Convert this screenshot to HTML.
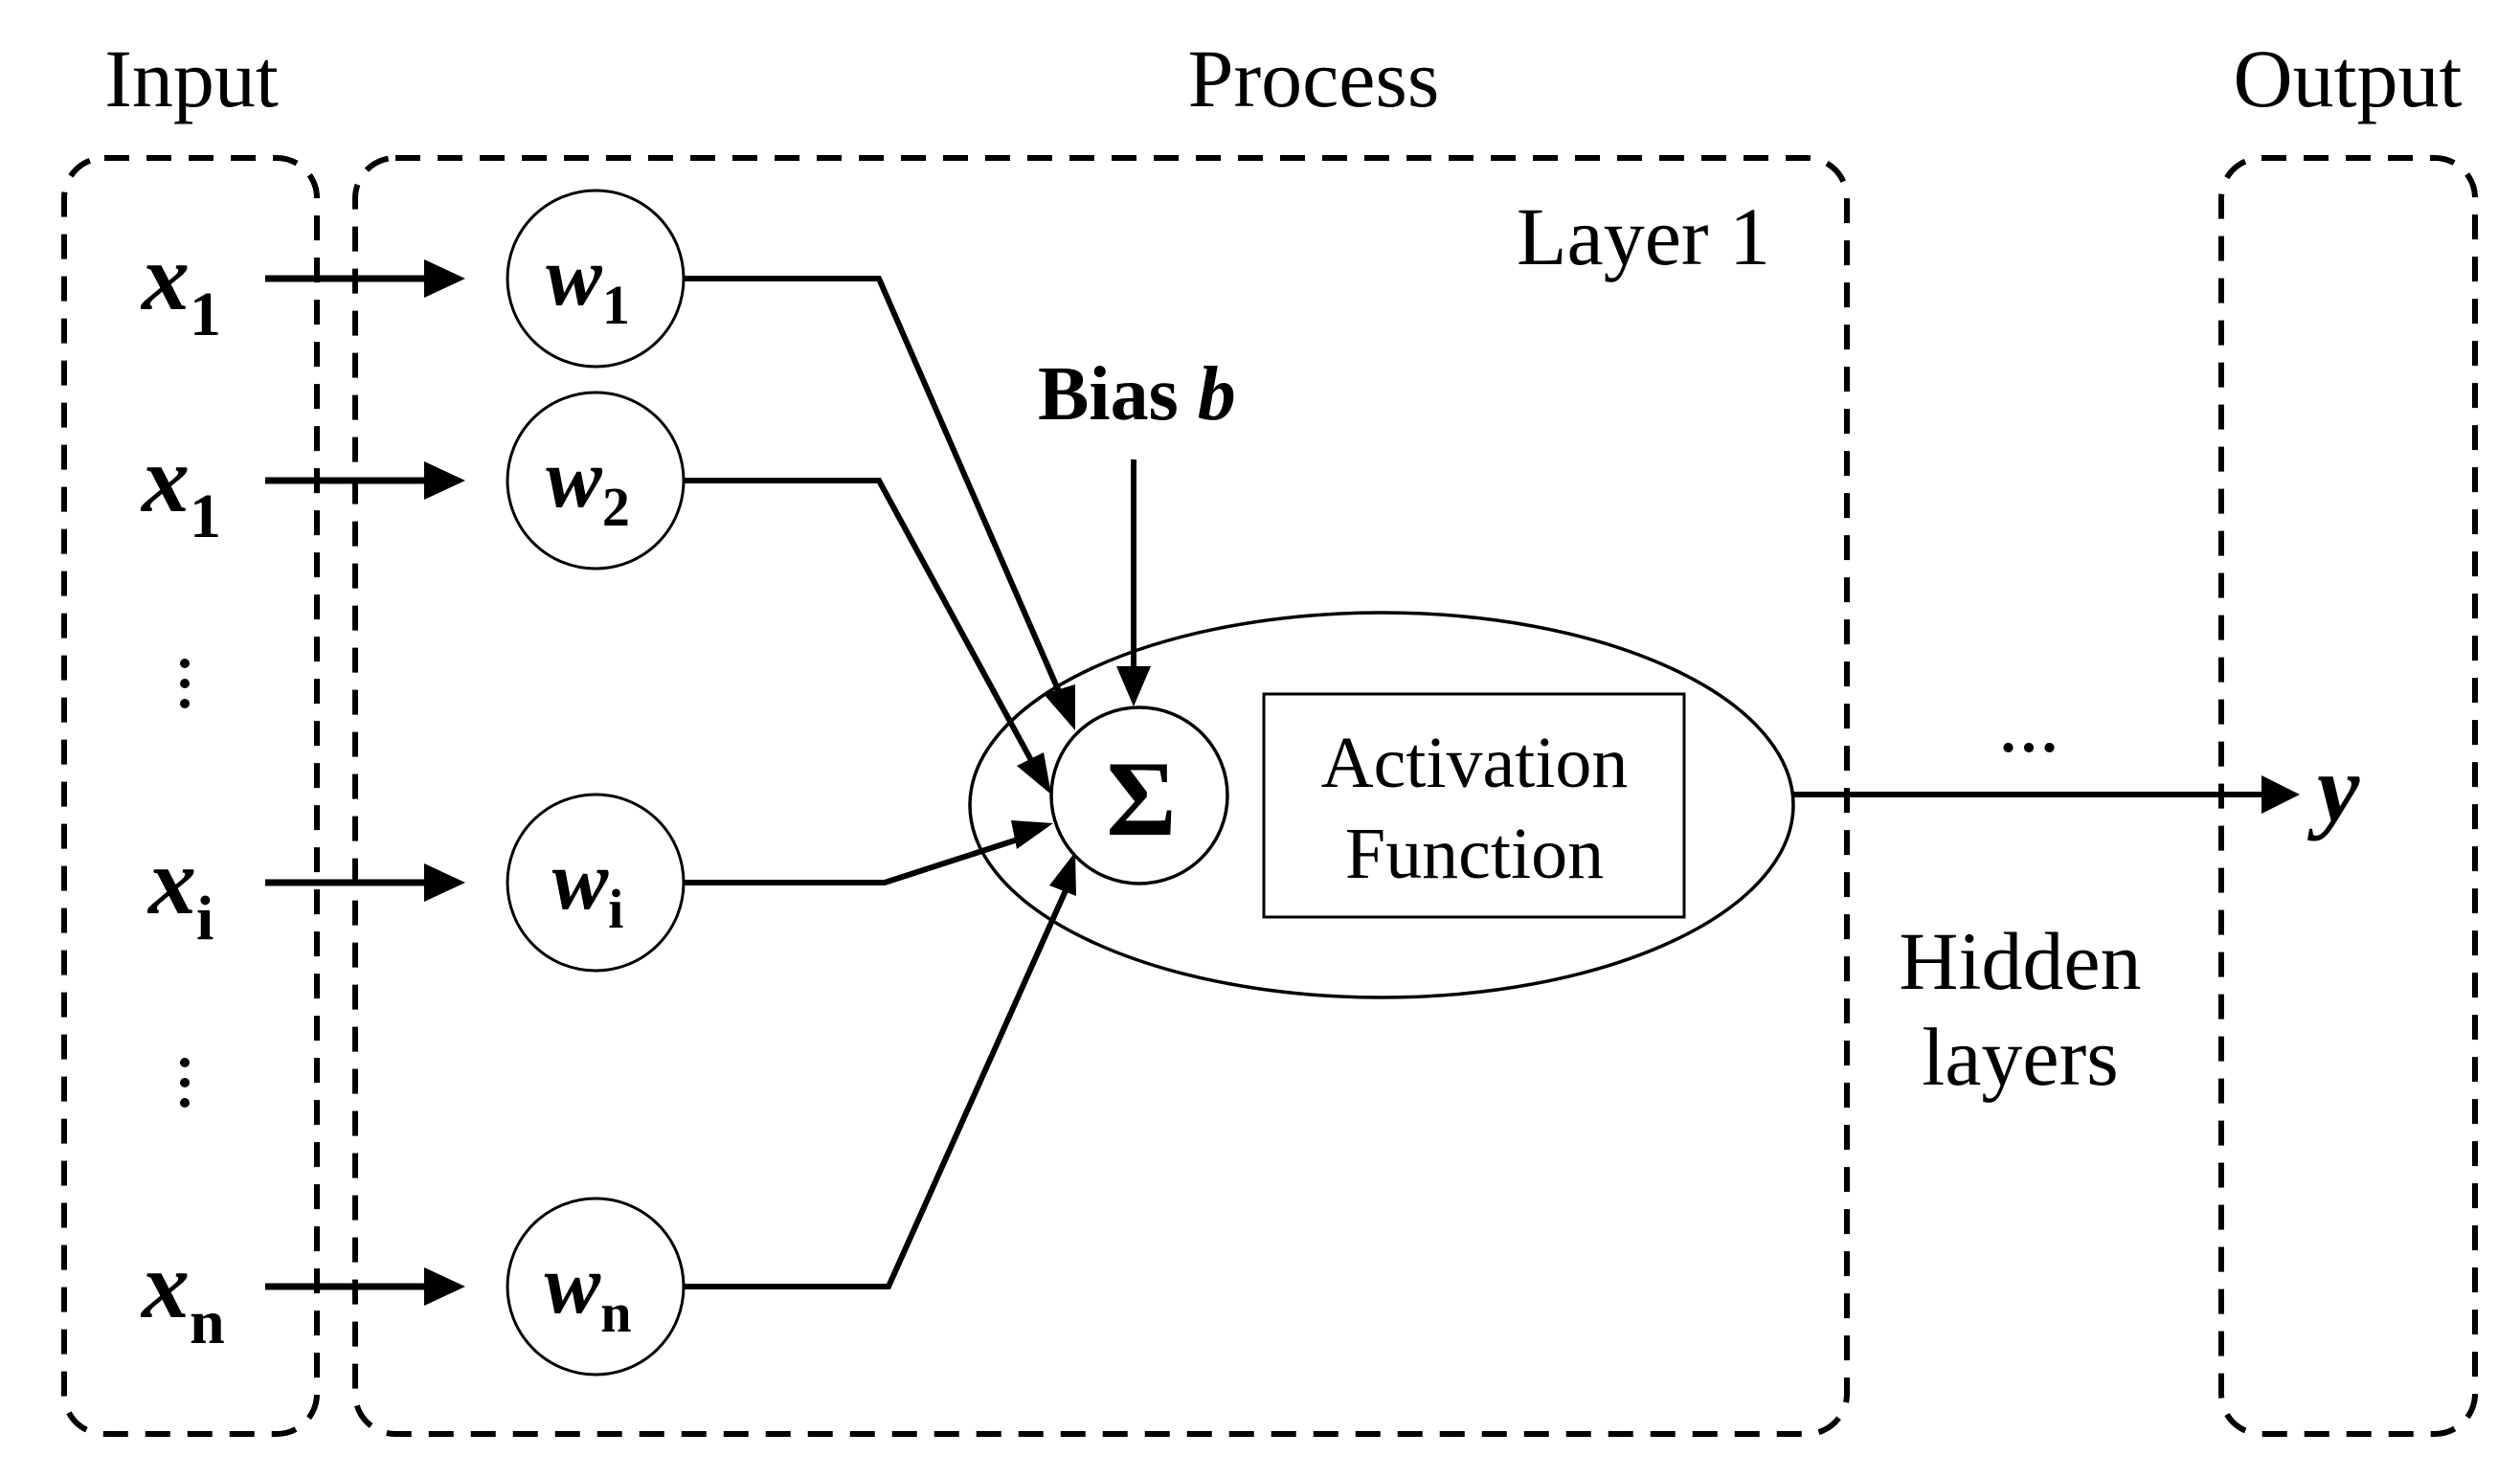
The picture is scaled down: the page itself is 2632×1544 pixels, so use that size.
<!DOCTYPE html>
<html><head><meta charset="utf-8"><style>
html,body{margin:0;padding:0;background:#fff}
svg{display:block}
text{font-family:"Liberation Serif",serif;fill:#000}
</style></head><body>
<svg width="2632" height="1544" viewBox="0 0 2632 1544" xmlns="http://www.w3.org/2000/svg">
<g fill="none" stroke="#000" stroke-width="6" stroke-dasharray="26 18">
<rect x="67" y="165" width="264" height="1333" rx="42"/>
<rect x="371" y="165" width="1558" height="1333" rx="42"/>
<rect x="2320" y="165" width="265" height="1333" rx="42"/>
</g>
<text x="200" y="111" font-size="86" text-anchor="middle">Input</text>
<text x="1372" y="111" font-size="86" text-anchor="middle">Process</text>
<text x="2452" y="111" font-size="86" text-anchor="middle">Output</text>
<text x="1849" y="276" font-size="86" text-anchor="end">Layer 1</text>

<g font-size="100" font-weight="bold" font-style="italic">
<text x="148" y="323">x<tspan font-style="normal" font-size="66" dy="27">1</tspan></text>
<text x="148" y="534">x<tspan font-style="normal" font-size="66" dy="27">1</tspan></text>
<text x="155" y="954">x<tspan font-style="normal" font-size="66" dy="27">i</tspan></text>
<text x="148" y="1376">x<tspan font-style="normal" font-size="66" dy="27">n</tspan></text>
</g>
<g fill="#000">
<circle cx="193" cy="693" r="5"/><circle cx="193" cy="714" r="5"/><circle cx="193" cy="735" r="5"/>
<circle cx="193" cy="1110" r="5"/><circle cx="193" cy="1131" r="5"/><circle cx="193" cy="1152" r="5"/>
</g>

<g stroke="#000" stroke-width="7">
<line x1="277" y1="291" x2="448" y2="291"/>
<line x1="277" y1="502" x2="448" y2="502"/>
<line x1="277" y1="922" x2="448" y2="922"/>
<line x1="277" y1="1344" x2="448" y2="1344"/>
</g>
<g fill="#000">
<path d="M443,271 L486,291 L443,311 z"/>
<path d="M443,482 L486,502 L443,522 z"/>
<path d="M443,902 L486,922 L443,942 z"/>
<path d="M443,1324 L486,1344 L443,1364 z"/>
</g>

<g fill="#fff" stroke="#000" stroke-width="3">
<circle cx="622" cy="291" r="92"/>
<circle cx="622" cy="502" r="92"/>
<circle cx="622" cy="922" r="92"/>
<circle cx="622" cy="1344" r="92"/>
</g>
<g font-size="88" font-weight="bold" font-style="italic" text-anchor="middle">
<text x="614" y="318">w<tspan font-style="normal" font-size="58" dy="20">1</tspan></text>
<text x="614" y="529">w<tspan font-style="normal" font-size="58" dy="20">2</tspan></text>
<text x="614" y="949">w<tspan font-style="normal" font-size="58" dy="20">i</tspan></text>
<text x="614" y="1371">w<tspan font-style="normal" font-size="58" dy="20">n</tspan></text>
</g>

<ellipse cx="1443" cy="841" rx="430" ry="201" fill="none" stroke="#000" stroke-width="3.5"/>
<rect x="1320" y="725" width="439" height="233" fill="none" stroke="#000" stroke-width="3"/>
<text x="1540" y="822" font-size="76" text-anchor="middle">Activation</text>
<text x="1540" y="917" font-size="76" text-anchor="middle">Function</text>
<circle cx="1190" cy="831" r="92" fill="none" stroke="#000" stroke-width="3.5"/>
<text x="1192" y="872" font-size="112" font-weight="bold" text-anchor="middle">Σ</text>

<text x="1084" y="438" font-size="80" font-weight="bold">Bias <tspan font-style="italic">b</tspan></text>

<g stroke="#000" stroke-width="6" fill="none" stroke-linejoin="miter">
<polyline points="714,291 918,291 1108,727"/>
<polyline points="714,502 918,502 1078,796"/>
<polyline points="714,922 924,922 1066,876"/>
<polyline points="714,1344 928,1344 1114,928"/>
<line x1="1184" y1="480" x2="1184" y2="700"/>
<line x1="1873" y1="830" x2="2370" y2="830"/>
</g>
<g fill="#000">
<path d="M1123,763 L1090,725 L1123,715 z"/>
<path d="M1098,830 L1062,800 L1090,786 z"/>
<path d="M1100,860 L1062,887 L1056,857 z"/>
<path d="M1123,890 L1124,936 L1096,925 z"/>
<path d="M1184,738 L1166,696 L1202,696 z"/>
<path d="M2402,830 L2362,810 L2362,850 z"/>
</g>
<text x="2119" y="785" font-size="86" text-anchor="middle">...</text>
<text x="2420" y="857" font-size="100" font-weight="bold" font-style="italic">y</text>
<text x="2110" y="1033" font-size="86" text-anchor="middle">Hidden</text>
<text x="2110" y="1133" font-size="86" text-anchor="middle">layers</text>
</svg>
</body></html>
